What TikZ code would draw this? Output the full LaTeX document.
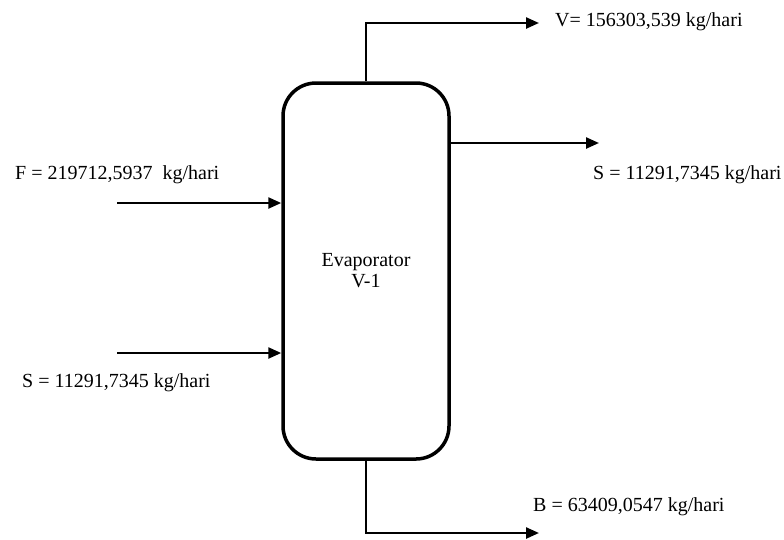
\documentclass[tikz,border=0pt]{standalone}
\usepackage{fontspec}
\setmainfont{Liberation Serif}
\usetikzlibrary{arrows.meta}
\begin{document}
\begin{tikzpicture}[x=1pt,y=-1pt,
  vessel/.style={draw, line width=3.5pt, rounded corners=33pt, minimum width=166pt, minimum height=376pt, inner sep=0pt, align=center, font=\fontsize{20}{21}\selectfont},
  pipe/.style={line width=2.4pt, -{Triangle[length=13pt,width=11pt]}},
  plainpipe/.style={line width=2.4pt},
  lbl/.style={anchor=west, inner sep=0pt, font=\fontsize{20}{24}\selectfont}]
\useasboundingbox (0,0) rectangle (784,539);
\node[vessel] (ev) at (366,271) {Evaporator\\V-1};
% top vapor outlet
\coordinate (vtop) at (366,23);
\coordinate (vend) at (539,23);
\draw[pipe] (ev.north) -- (vtop) -- (vend);
% right steam outlet
\coordinate (sr) at (449,143);
\coordinate (srend) at (599,143);
\draw[pipe] (ev.east |- sr) -- (srend);
% left inlets
\coordinate (fin) at (117,203);
\coordinate (sin) at (117,353);
\draw[pipe] (fin) -- (ev.west |- fin);
\draw[pipe] (sin) -- (ev.west |- sin);
% bottom outlet
\coordinate (bbot) at (366,533);
\coordinate (bend) at (539,533);
\draw[pipe] (ev.south) -- (bbot) -- (bend);
% labels
\node[lbl] (lv) at (555,22) {V= 156303,539 kg/hari};
\node[lbl] (lsr) at (593,175) {S = 11291,7345 kg/hari};
\node[lbl] (lf) at (15,175) {F = 219712,5937~ kg/hari};
\node[lbl] (lsl) at (22,383) {S = 11291,7345 kg/hari};
\node[lbl] (lb) at (533,507) {B = 63409,0547 kg/hari};
\end{tikzpicture}
\end{document}
